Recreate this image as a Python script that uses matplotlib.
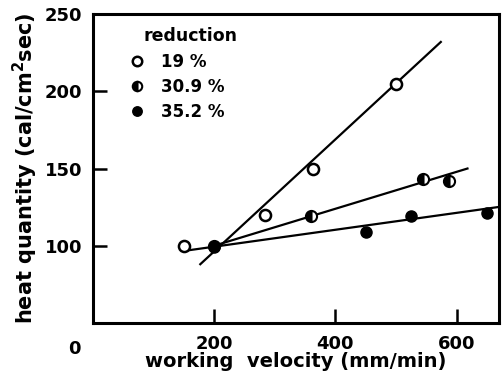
import numpy as np
import matplotlib
matplotlib.use('Agg')
import matplotlib.pyplot as plt

# Data
v19 = [150, 283, 363, 500]
q19 = [100, 120, 150, 205]
v309 = [200, 359, 545, 588]
q309 = [100, 119, 143, 142]
v352 = [200, 450, 524, 651]
q352 = [99, 109, 119, 121]

# fitted lines (end points)
line19_v = [177, 574]
line19_q = [88, 232]
line309_v = [200, 618]
line309_q = [100, 150]
line352_v = [157, 668]
line352_q = [97, 125]

labels = ['19 %', '30.9 %', '35.2 %']

plt.rcParams['font.family'] = 'DejaVu Sans'
plt.rcParams['font.weight'] = 'bold'

fig = plt.figure(figsize=(5.03, 3.83), dpi=100)
ax = fig.add_axes([0.185, 0.157, 0.807, 0.806])

lw = 1.6
ax.plot(line19_v, line19_q, color='black', lw=lw)
ax.plot(line309_v, line309_q, color='black', lw=lw)
ax.plot(line352_v, line352_q, color='black', lw=lw)

ms = 8
h1, = ax.plot(v19, q19, 'o', ms=ms, mfc='white', mec='black', mew=1.8, ls='none')
h2, = ax.plot(v309, q309, 'o', ms=ms, mfc='black', mec='black', mew=1.5,
              fillstyle='left', markerfacecoloralt='white', ls='none')
h3, = ax.plot(v352, q352, 'o', ms=ms, mfc='black', mec='black', ls='none')

ax.set_xlim(0, 670)
ax.set_ylim(50, 250)
ax.set_xticks([200, 400, 600])
ax.set_yticks([100, 150, 200, 250])
ax.tick_params(direction='in', length=10, width=1.8, labelsize=13)
ax.tick_params(axis='x', pad=9)
ax.tick_params(axis='y', pad=8)
for t in ax.get_yticklines()[-2:]:
    t.set_visible(False)
for s in ax.spines.values():
    s.set_linewidth(2.2)

ax.text(-0.03, -0.055, '0', transform=ax.transAxes, ha='right', va='top',
        fontsize=13, fontweight='bold')

ax.set_xlabel('working  velocity (mm/min)', fontsize=14, fontweight='bold', labelpad=-1)
ax.set_ylabel('heat quantity (cal/cm$^2$sec)', fontsize=15, fontweight='bold', labelpad=3)

# legend: title as separate text so it sits right of the markers
ax.text(0.125, 0.93, 'reduction', transform=ax.transAxes, ha='left', va='center',
        fontsize=12.5, fontweight='bold')
leg = ax.legend([h1, h2, h3], labels, loc='upper left',
                frameon=False, fontsize=12, handletextpad=1.1,
                handlelength=0.7, borderaxespad=0.0, labelspacing=0.4,
                markerscale=0.85, bbox_to_anchor=(0.078, 0.895))

fig.savefig('out.png', dpi=100)
